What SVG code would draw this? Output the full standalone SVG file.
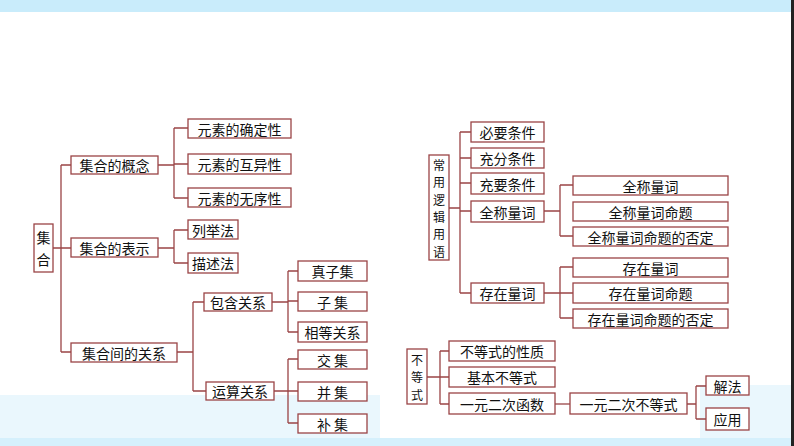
<svg xmlns="http://www.w3.org/2000/svg" width="794" height="446" viewBox="0 0 794 446">
<style>
.b{fill:#fff;stroke:#9a4446;stroke-width:1.3}
.c{fill:none;stroke:#9a4446;stroke-width:1.3}
text{font-family:"Noto Sans CJK SC",sans-serif;font-size:14px;fill:#111;text-anchor:middle;dominant-baseline:central}
.v{font-size:12px}
</style>
<rect width="794" height="446" fill="#fff"/>
<rect width="794" height="12" fill="#c9ecfb"/>
<rect x="0" y="395" width="380" height="51" fill="#eaf7fd"/>
<rect x="700" y="385" width="91" height="61" fill="#eaf7fd"/>
<rect x="0" y="438" width="794" height="8" fill="#d5f0fc"/>
<rect x="791" y="0" width="3" height="446" fill="#222"/>
<g id="connectors" class="c">
<path d="M53 248H61M61 165V352M61 165H71M61 248H71M61 352H71"/>
<path d="M158 165H174M174 128V198M174 128H188M174 164H188M174 198H188"/>
<path d="M158 248H174M174 230V263M174 230H188M174 263H188"/>
<path d="M177 352H193M193 302V391M193 302H204M193 391H206"/>
<path d="M272 302H288M288 271V332M288 271H298M288 301H298M288 332H298"/>
<path d="M274 391H288M288 359V423M288 359H298M288 391H298M288 423H298"/>
<path d="M449 208H460M460 132V293M460 132H471M460 158H471M460 183H471M460 211H471M460 293H471"/>
<path d="M544 211H560M560 185V236M560 185H573M560 236H573"/>
<path d="M544 293H560M560 267V318M560 267H573M560 293H573M560 318H573"/>
<path d="M427 377H440M440 351V404M440 351H449M440 377H449M440 404H449"/>
<path d="M555 404H570"/>
<path d="M687 404H696M696 386V419M696 386H706M696 419H706"/>
</g>
<g id="n-jihe"><rect class="b" x="34" y="224" width="19" height="48"/><text x="43.5" y="237">集</text><text x="43.5" y="259">合</text></g>
<g id="n-gainian"><rect class="b" x="71" y="156" width="87" height="18"/><text x="114.5" y="165">集合的概念</text></g>
<g id="n-biaoshi"><rect class="b" x="71" y="238" width="87" height="19"/><text x="114.5" y="247.5">集合的表示</text></g>
<g id="n-guanxi"><rect class="b" x="71" y="343" width="106" height="19"/><text x="124" y="352.5">集合间的关系</text></g>
<g id="n-q1"><rect class="b" x="188" y="119" width="103" height="19"/><text x="239.5" y="128.5">元素的确定性</text></g>
<g id="n-q2"><rect class="b" x="188" y="154" width="103" height="20"/><text x="239.5" y="164">元素的互异性</text></g>
<g id="n-q3"><rect class="b" x="188" y="188" width="103" height="19"/><text x="239.5" y="197.5">元素的无序性</text></g>
<g id="n-liejufa"><rect class="b" x="188" y="220" width="50" height="19"/><text x="213" y="229.5">列举法</text></g>
<g id="n-miaoshufa"><rect class="b" x="188" y="253" width="50" height="20"/><text x="213" y="263">描述法</text></g>
<g id="n-baohan"><rect class="b" x="204" y="293" width="68" height="18"/><text x="238" y="302">包含关系</text></g>
<g id="n-yunsuan"><rect class="b" x="206" y="382" width="68" height="18"/><text x="240" y="391">运算关系</text></g>
<g id="n-zhenziji"><rect class="b" x="298" y="261" width="69" height="20"/><text x="332.5" y="271">真子集</text></g>
<g id="n-ziji"><rect class="b" x="298" y="292" width="69" height="19"/><text x="332.5" y="301.5">子 集</text></g>
<g id="n-xiangdeng"><rect class="b" x="298" y="322" width="69" height="20"/><text x="332.5" y="332">相等关系</text></g>
<g id="n-jiao"><rect class="b" x="298" y="350" width="69" height="19"/><text x="332.5" y="359.5">交 集</text></g>
<g id="n-bing"><rect class="b" x="298" y="382" width="69" height="19"/><text x="332.5" y="391.5">并 集</text></g>
<g id="n-bu"><rect class="b" x="298" y="414" width="69" height="19"/><text x="332.5" y="423.5">补 集</text></g>
<g id="n-luoji"><rect class="b" x="429" y="155" width="20" height="105"/>
<text class="v" x="439" y="164.5">常</text><text class="v" x="439" y="181.8">用</text><text class="v" x="439" y="199.1">逻</text><text class="v" x="439" y="216.4">辑</text><text class="v" x="439" y="233.7">用</text><text class="v" x="439" y="251">语</text></g>
<g id="n-biyao"><rect class="b" x="471" y="122" width="73" height="20"/><text x="507.5" y="132">必要条件</text></g>
<g id="n-chongfen"><rect class="b" x="471" y="148" width="73" height="20"/><text x="507.5" y="158">充分条件</text></g>
<g id="n-chongyao"><rect class="b" x="471" y="173" width="73" height="21"/><text x="507.5" y="183.5">充要条件</text></g>
<g id="n-quancheng"><rect class="b" x="471" y="201" width="73" height="21"/><text x="507.5" y="211.5">全称量词</text></g>
<g id="n-cunzai"><rect class="b" x="471" y="283" width="73" height="20"/><text x="507.5" y="293">存在量词</text></g>
<g id="n-qc1"><rect class="b" x="573" y="176" width="155" height="19"/><text x="650.5" y="185.5">全称量词</text></g>
<g id="n-qc2"><rect class="b" x="573" y="202" width="155" height="19"/><text x="650.5" y="211.5">全称量词命题</text></g>
<g id="n-qc3"><rect class="b" x="573" y="227" width="155" height="19"/><text x="650.5" y="236.5">全称量词命题的否定</text></g>
<g id="n-cz1"><rect class="b" x="573" y="258" width="155" height="19"/><text x="650.5" y="267.5">存在量词</text></g>
<g id="n-cz2"><rect class="b" x="573" y="283" width="155" height="20"/><text x="650.5" y="293">存在量词命题</text></g>
<g id="n-cz3"><rect class="b" x="573" y="309" width="155" height="19"/><text x="650.5" y="318.5">存在量词命题的否定</text></g>
<g id="n-budengshi"><rect class="b" x="407" y="349" width="20" height="55"/><text class="v" x="417" y="359">不</text><text class="v" x="417" y="376.5">等</text><text class="v" x="417" y="394">式</text></g>
<g id="n-xingzhi"><rect class="b" x="449" y="341" width="106" height="20"/><text x="502" y="351">不等式的性质</text></g>
<g id="n-jiben"><rect class="b" x="449" y="367" width="106" height="20"/><text x="502" y="377">基本不等式</text></g>
<g id="n-hanshu"><rect class="b" x="449" y="393" width="106" height="21"/><text x="502" y="403.5">一元二次函数</text></g>
<g id="n-erci"><rect class="b" x="570" y="393" width="117" height="21"/><text x="628.5" y="403.5">一元二次不等式</text></g>
<g id="n-jiefa"><rect class="b" x="706" y="376" width="43" height="19"/><text x="727.5" y="385.5">解法</text></g>
<g id="n-yingyong"><rect class="b" x="706" y="408" width="43" height="22"/><text x="727.5" y="419">应用</text></g>
</svg>
